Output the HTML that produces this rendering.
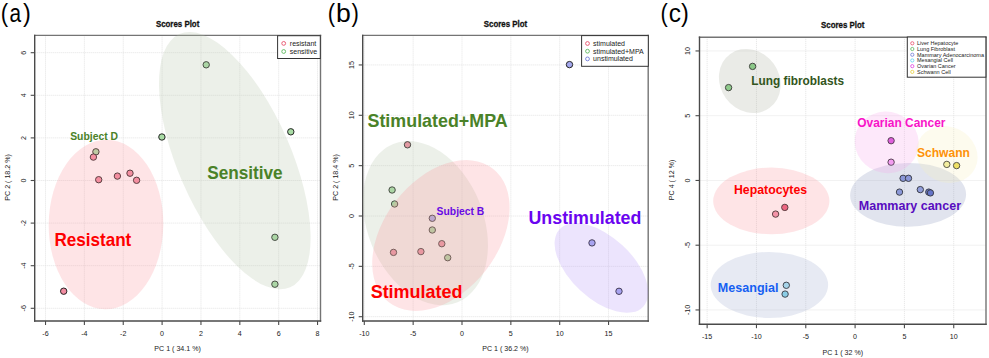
<!DOCTYPE html>
<html><head><meta charset="utf-8"><style>
html,body{margin:0;padding:0;background:#fff;overflow:hidden;}
svg{display:block;font-family:"Liberation Sans", sans-serif;}
</style></head><body>
<svg width="989" height="358" viewBox="0 0 989 358">
<rect x="0" y="0" width="989" height="358" fill="#fff"/>
<g stroke="#e3e3e3" stroke-width="1.0" stroke-dasharray="1 1"><line x1="45.52" y1="35.4" x2="45.52" y2="321.0"/><line x1="84.38" y1="35.4" x2="84.38" y2="321.0"/><line x1="123.24" y1="35.4" x2="123.24" y2="321.0"/><line x1="162.10" y1="35.4" x2="162.10" y2="321.0"/><line x1="200.96" y1="35.4" x2="200.96" y2="321.0"/><line x1="239.82" y1="35.4" x2="239.82" y2="321.0"/><line x1="278.68" y1="35.4" x2="278.68" y2="321.0"/><line x1="317.54" y1="35.4" x2="317.54" y2="321.0"/><line x1="34.7" y1="308.30" x2="320.5" y2="308.30"/><line x1="34.7" y1="265.70" x2="320.5" y2="265.70"/><line x1="34.7" y1="223.10" x2="320.5" y2="223.10"/><line x1="34.7" y1="180.50" x2="320.5" y2="180.50"/><line x1="34.7" y1="137.90" x2="320.5" y2="137.90"/><line x1="34.7" y1="95.30" x2="320.5" y2="95.30"/><line x1="34.7" y1="52.70" x2="320.5" y2="52.70"/></g>
<circle cx="95.9" cy="151.8" r="3.2" fill="#a9dca5" stroke="#1c1c1c" stroke-width="0.95"/>
<circle cx="161.9" cy="137" r="3.2" fill="#a9dca5" stroke="#1c1c1c" stroke-width="0.95"/>
<circle cx="206.2" cy="64.8" r="3.2" fill="#a9dca5" stroke="#1c1c1c" stroke-width="0.95"/>
<circle cx="290.8" cy="131.8" r="3.2" fill="#a9dca5" stroke="#1c1c1c" stroke-width="0.95"/>
<circle cx="274.9" cy="237.3" r="3.2" fill="#a9dca5" stroke="#1c1c1c" stroke-width="0.95"/>
<circle cx="274.9" cy="284.2" r="3.2" fill="#a9dca5" stroke="#1c1c1c" stroke-width="0.95"/>
<circle cx="93.4" cy="157.1" r="3.2" fill="#f28da2" stroke="#1c1c1c" stroke-width="0.95"/>
<circle cx="98.7" cy="179.7" r="3.2" fill="#f28da2" stroke="#1c1c1c" stroke-width="0.95"/>
<circle cx="117.4" cy="176.1" r="3.2" fill="#f28da2" stroke="#1c1c1c" stroke-width="0.95"/>
<circle cx="130" cy="173.2" r="3.2" fill="#f28da2" stroke="#1c1c1c" stroke-width="0.95"/>
<circle cx="136.6" cy="180.3" r="3.2" fill="#f28da2" stroke="#1c1c1c" stroke-width="0.95"/>
<circle cx="63.7" cy="291.2" r="3.2" fill="#f28da2" stroke="#1c1c1c" stroke-width="0.95"/>
<line x1="34.0" y1="35.4" x2="321.2" y2="35.4" stroke="#747474" stroke-width="1.4"/>
<line x1="320.5" y1="34.699999999999996" x2="320.5" y2="321.7" stroke="#747474" stroke-width="1.4"/>
<line x1="34.7" y1="34.699999999999996" x2="34.7" y2="321.7" stroke="#4a4a4a" stroke-width="1.4"/>
<line x1="34.0" y1="321.0" x2="321.2" y2="321.0" stroke="#4a4a4a" stroke-width="1.4"/>
<g stroke="#4a4a4a" stroke-width="1.1"><line x1="45.52" y1="321.0" x2="45.52" y2="325.0"/><line x1="84.38" y1="321.0" x2="84.38" y2="325.0"/><line x1="123.24" y1="321.0" x2="123.24" y2="325.0"/><line x1="162.10" y1="321.0" x2="162.10" y2="325.0"/><line x1="200.96" y1="321.0" x2="200.96" y2="325.0"/><line x1="239.82" y1="321.0" x2="239.82" y2="325.0"/><line x1="278.68" y1="321.0" x2="278.68" y2="325.0"/><line x1="317.54" y1="321.0" x2="317.54" y2="325.0"/><line x1="30.700000000000003" y1="308.30" x2="34.7" y2="308.30"/><line x1="30.700000000000003" y1="265.70" x2="34.7" y2="265.70"/><line x1="30.700000000000003" y1="223.10" x2="34.7" y2="223.10"/><line x1="30.700000000000003" y1="180.50" x2="34.7" y2="180.50"/><line x1="30.700000000000003" y1="137.90" x2="34.7" y2="137.90"/><line x1="30.700000000000003" y1="95.30" x2="34.7" y2="95.30"/><line x1="30.700000000000003" y1="52.70" x2="34.7" y2="52.70"/></g>
<text transform="translate(45.52 335.7) scale(1 1.1)" font-size="7.1" fill="#222" text-anchor="middle">-6</text>
<text transform="translate(84.38 335.7) scale(1 1.1)" font-size="7.1" fill="#222" text-anchor="middle">-4</text>
<text transform="translate(123.24 335.7) scale(1 1.1)" font-size="7.1" fill="#222" text-anchor="middle">-2</text>
<text transform="translate(162.10 335.7) scale(1 1.1)" font-size="7.1" fill="#222" text-anchor="middle">0</text>
<text transform="translate(200.96 335.7) scale(1 1.1)" font-size="7.1" fill="#222" text-anchor="middle">2</text>
<text transform="translate(239.82 335.7) scale(1 1.1)" font-size="7.1" fill="#222" text-anchor="middle">4</text>
<text transform="translate(278.68 335.7) scale(1 1.1)" font-size="7.1" fill="#222" text-anchor="middle">6</text>
<text transform="translate(317.54 335.7) scale(1 1.1)" font-size="7.1" fill="#222" text-anchor="middle">8</text>
<text transform="translate(26.10 308.30) rotate(-90) scale(1 1.1)" font-size="7.1" fill="#222" text-anchor="middle">-6</text>
<text transform="translate(26.10 265.70) rotate(-90) scale(1 1.1)" font-size="7.1" fill="#222" text-anchor="middle">-4</text>
<text transform="translate(26.10 223.10) rotate(-90) scale(1 1.1)" font-size="7.1" fill="#222" text-anchor="middle">-2</text>
<text transform="translate(26.10 180.50) rotate(-90) scale(1 1.1)" font-size="7.1" fill="#222" text-anchor="middle">0</text>
<text transform="translate(26.10 137.90) rotate(-90) scale(1 1.1)" font-size="7.1" fill="#222" text-anchor="middle">2</text>
<text transform="translate(26.10 95.30) rotate(-90) scale(1 1.1)" font-size="7.1" fill="#222" text-anchor="middle">4</text>
<text transform="translate(26.10 52.70) rotate(-90) scale(1 1.1)" font-size="7.1" fill="#222" text-anchor="middle">6</text>
<text transform="translate(177.60 26.7) scale(1 1.16)" font-size="7.9" font-weight="bold" fill="#111" stroke="#111" stroke-width="0.25" text-anchor="middle">Scores Plot</text>
<text transform="translate(177.60 351.3) scale(1 1.1)" font-size="7.1" fill="#222" text-anchor="middle">PC 1 ( 34.1 %)</text>
<text transform="translate(10.10 177.40) rotate(-90) scale(1 1.1)" font-size="7.1" fill="#222" text-anchor="middle">PC 2 ( 18.2 %)</text>
<rect x="277.6" y="35.7" width="42.70" height="22.80" fill="#fff" stroke="#333" stroke-width="1"/>
<circle cx="283.7" cy="43.4" r="1.9" fill="none" stroke="#e8506a" stroke-width="0.9"/>
<text x="289.8" y="45.90" font-size="7.0" fill="#222">resistant</text>
<circle cx="283.7" cy="51.5" r="1.9" fill="none" stroke="#5cb85c" stroke-width="0.9"/>
<text x="289.8" y="54.00" font-size="7.0" fill="#222">sensitive</text>
<g stroke="#e3e3e3" stroke-width="1.0" stroke-dasharray="1 1"><line x1="364.30" y1="35.4" x2="364.30" y2="321.0"/><line x1="413.15" y1="35.4" x2="413.15" y2="321.0"/><line x1="462.00" y1="35.4" x2="462.00" y2="321.0"/><line x1="510.85" y1="35.4" x2="510.85" y2="321.0"/><line x1="559.70" y1="35.4" x2="559.70" y2="321.0"/><line x1="608.55" y1="35.4" x2="608.55" y2="321.0"/><line x1="362.7" y1="316.70" x2="648.2" y2="316.70"/><line x1="362.7" y1="266.35" x2="648.2" y2="266.35"/><line x1="362.7" y1="216.00" x2="648.2" y2="216.00"/><line x1="362.7" y1="165.65" x2="648.2" y2="165.65"/><line x1="362.7" y1="115.30" x2="648.2" y2="115.30"/><line x1="362.7" y1="64.95" x2="648.2" y2="64.95"/></g>
<circle cx="392.1" cy="190" r="3.2" fill="#a9dca5" stroke="#1c1c1c" stroke-width="0.95"/>
<circle cx="394.6" cy="204" r="3.2" fill="#a9dca5" stroke="#1c1c1c" stroke-width="0.95"/>
<circle cx="432.3" cy="230" r="3.2" fill="#a9dca5" stroke="#1c1c1c" stroke-width="0.95"/>
<circle cx="447.7" cy="257.7" r="3.2" fill="#a9dca5" stroke="#1c1c1c" stroke-width="0.95"/>
<circle cx="407.5" cy="144.8" r="3.2" fill="#f28da2" stroke="#1c1c1c" stroke-width="0.95"/>
<circle cx="441.8" cy="243.7" r="3.2" fill="#f28da2" stroke="#1c1c1c" stroke-width="0.95"/>
<circle cx="393.5" cy="252.4" r="3.2" fill="#f28da2" stroke="#1c1c1c" stroke-width="0.95"/>
<circle cx="420.9" cy="251.6" r="3.2" fill="#f28da2" stroke="#1c1c1c" stroke-width="0.95"/>
<circle cx="432.3" cy="218.3" r="3.2" fill="#a4a8ee" stroke="#1c1c1c" stroke-width="0.95"/>
<circle cx="569.5" cy="64.6" r="3.2" fill="#a4a8ee" stroke="#1c1c1c" stroke-width="0.95"/>
<circle cx="592" cy="242.9" r="3.2" fill="#a4a8ee" stroke="#1c1c1c" stroke-width="0.95"/>
<circle cx="619" cy="291.3" r="3.2" fill="#a4a8ee" stroke="#1c1c1c" stroke-width="0.95"/>
<line x1="362.0" y1="35.4" x2="648.9000000000001" y2="35.4" stroke="#747474" stroke-width="1.4"/>
<line x1="648.2" y1="34.699999999999996" x2="648.2" y2="321.7" stroke="#747474" stroke-width="1.4"/>
<line x1="362.7" y1="34.699999999999996" x2="362.7" y2="321.7" stroke="#4a4a4a" stroke-width="1.4"/>
<line x1="362.0" y1="321.0" x2="648.9000000000001" y2="321.0" stroke="#4a4a4a" stroke-width="1.4"/>
<g stroke="#4a4a4a" stroke-width="1.1"><line x1="364.30" y1="321.0" x2="364.30" y2="325.0"/><line x1="413.15" y1="321.0" x2="413.15" y2="325.0"/><line x1="462.00" y1="321.0" x2="462.00" y2="325.0"/><line x1="510.85" y1="321.0" x2="510.85" y2="325.0"/><line x1="559.70" y1="321.0" x2="559.70" y2="325.0"/><line x1="608.55" y1="321.0" x2="608.55" y2="325.0"/><line x1="358.7" y1="316.70" x2="362.7" y2="316.70"/><line x1="358.7" y1="266.35" x2="362.7" y2="266.35"/><line x1="358.7" y1="216.00" x2="362.7" y2="216.00"/><line x1="358.7" y1="165.65" x2="362.7" y2="165.65"/><line x1="358.7" y1="115.30" x2="362.7" y2="115.30"/><line x1="358.7" y1="64.95" x2="362.7" y2="64.95"/></g>
<text transform="translate(364.30 335.7) scale(1 1.1)" font-size="7.1" fill="#222" text-anchor="middle">-10</text>
<text transform="translate(413.15 335.7) scale(1 1.1)" font-size="7.1" fill="#222" text-anchor="middle">-5</text>
<text transform="translate(462.00 335.7) scale(1 1.1)" font-size="7.1" fill="#222" text-anchor="middle">0</text>
<text transform="translate(510.85 335.7) scale(1 1.1)" font-size="7.1" fill="#222" text-anchor="middle">5</text>
<text transform="translate(559.70 335.7) scale(1 1.1)" font-size="7.1" fill="#222" text-anchor="middle">10</text>
<text transform="translate(608.55 335.7) scale(1 1.1)" font-size="7.1" fill="#222" text-anchor="middle">15</text>
<text transform="translate(353.60 316.70) rotate(-90) scale(1 1.1)" font-size="7.1" fill="#222" text-anchor="middle">-10</text>
<text transform="translate(353.60 266.35) rotate(-90) scale(1 1.1)" font-size="7.1" fill="#222" text-anchor="middle">-5</text>
<text transform="translate(353.60 216.00) rotate(-90) scale(1 1.1)" font-size="7.1" fill="#222" text-anchor="middle">0</text>
<text transform="translate(353.60 165.65) rotate(-90) scale(1 1.1)" font-size="7.1" fill="#222" text-anchor="middle">5</text>
<text transform="translate(353.60 115.30) rotate(-90) scale(1 1.1)" font-size="7.1" fill="#222" text-anchor="middle">10</text>
<text transform="translate(353.60 64.95) rotate(-90) scale(1 1.1)" font-size="7.1" fill="#222" text-anchor="middle">15</text>
<text transform="translate(505.45 26.7) scale(1 1.16)" font-size="7.9" font-weight="bold" fill="#111" stroke="#111" stroke-width="0.25" text-anchor="middle">Scores Plot</text>
<text transform="translate(505.45 351.3) scale(1 1.1)" font-size="7.1" fill="#222" text-anchor="middle">PC 1 ( 36.2 %)</text>
<text transform="translate(337.90 177.40) rotate(-90) scale(1 1.1)" font-size="7.1" fill="#222" text-anchor="middle">PC 2 ( 18.4 %)</text>
<rect x="581.6" y="35.6" width="66.70" height="30.70" fill="#fff" stroke="#333" stroke-width="1"/>
<circle cx="587.5" cy="43.5" r="1.9" fill="none" stroke="#e8506a" stroke-width="0.9"/>
<text x="593.1" y="46.00" font-size="7.0" fill="#222">stimulated</text>
<circle cx="587.5" cy="51.2" r="1.9" fill="none" stroke="#5cb85c" stroke-width="0.9"/>
<text x="593.1" y="53.70" font-size="7.0" fill="#222">stimulated+MPA</text>
<circle cx="587.5" cy="58.9" r="1.9" fill="none" stroke="#6f7ad8" stroke-width="0.9"/>
<text x="593.1" y="61.40" font-size="7.0" fill="#222">unstimulated</text>
<g stroke="#e3e3e3" stroke-width="1.0" stroke-dasharray="1 1"><line x1="707.14" y1="37.2" x2="707.14" y2="324.2"/><line x1="756.46" y1="37.2" x2="756.46" y2="324.2"/><line x1="805.78" y1="37.2" x2="805.78" y2="324.2"/><line x1="855.10" y1="37.2" x2="855.10" y2="324.2"/><line x1="904.42" y1="37.2" x2="904.42" y2="324.2"/><line x1="953.74" y1="37.2" x2="953.74" y2="324.2"/><line x1="699.5" y1="309.95" x2="986.0" y2="309.95"/><line x1="699.5" y1="245.20" x2="986.0" y2="245.20"/><line x1="699.5" y1="180.45" x2="986.0" y2="180.45"/><line x1="699.5" y1="115.70" x2="986.0" y2="115.70"/><line x1="699.5" y1="50.95" x2="986.0" y2="50.95"/></g>
<circle cx="752.6" cy="66.4" r="3.2" fill="#80d080" stroke="#1c1c1c" stroke-width="0.95"/>
<circle cx="728.6" cy="87.6" r="3.2" fill="#86d486" stroke="#1c1c1c" stroke-width="0.95"/>
<circle cx="784.8" cy="207.4" r="3.2" fill="#e8587a" stroke="#1c1c1c" stroke-width="0.95"/>
<circle cx="775.6" cy="214.1" r="3.2" fill="#f294ac" stroke="#1c1c1c" stroke-width="0.95"/>
<circle cx="891.1" cy="140.7" r="3.2" fill="#d848d8" stroke="#1c1c1c" stroke-width="0.95"/>
<circle cx="891.1" cy="162.2" r="3.2" fill="#f29af2" stroke="#1c1c1c" stroke-width="0.95"/>
<circle cx="946.8" cy="164.4" r="3.2" fill="#f2ee96" stroke="#1c1c1c" stroke-width="0.95"/>
<circle cx="956.6" cy="165.6" r="3.2" fill="#ecdc48" stroke="#1c1c1c" stroke-width="0.95"/>
<circle cx="903.1" cy="178.3" r="3.2" fill="#8c9ae2" stroke="#1c1c1c" stroke-width="0.95"/>
<circle cx="908.5" cy="178.3" r="3.2" fill="#8c9ae2" stroke="#1c1c1c" stroke-width="0.95"/>
<circle cx="899.5" cy="192.1" r="3.2" fill="#8c9ae2" stroke="#1c1c1c" stroke-width="0.95"/>
<circle cx="920.3" cy="189.6" r="3.2" fill="#94a0e4" stroke="#1c1c1c" stroke-width="0.95"/>
<circle cx="928.8" cy="192.1" r="3.2" fill="#6a7ad4" stroke="#1c1c1c" stroke-width="0.95"/>
<circle cx="930.4" cy="192.9" r="3.2" fill="#5a6acc" stroke="#1c1c1c" stroke-width="0.95"/>
<circle cx="786.3" cy="285.3" r="3.2" fill="#a8e2f2" stroke="#1c1c1c" stroke-width="0.95"/>
<circle cx="785.1" cy="294.1" r="3.2" fill="#84d8ee" stroke="#1c1c1c" stroke-width="0.95"/>
<line x1="698.8" y1="37.2" x2="986.7" y2="37.2" stroke="#747474" stroke-width="1.4"/>
<line x1="986.0" y1="36.5" x2="986.0" y2="324.9" stroke="#747474" stroke-width="1.4"/>
<line x1="699.5" y1="36.5" x2="699.5" y2="324.9" stroke="#4a4a4a" stroke-width="1.4"/>
<line x1="698.8" y1="324.2" x2="986.7" y2="324.2" stroke="#4a4a4a" stroke-width="1.4"/>
<g stroke="#4a4a4a" stroke-width="1.1"><line x1="707.14" y1="324.2" x2="707.14" y2="328.2"/><line x1="756.46" y1="324.2" x2="756.46" y2="328.2"/><line x1="805.78" y1="324.2" x2="805.78" y2="328.2"/><line x1="855.10" y1="324.2" x2="855.10" y2="328.2"/><line x1="904.42" y1="324.2" x2="904.42" y2="328.2"/><line x1="953.74" y1="324.2" x2="953.74" y2="328.2"/><line x1="695.5" y1="309.95" x2="699.5" y2="309.95"/><line x1="695.5" y1="245.20" x2="699.5" y2="245.20"/><line x1="695.5" y1="180.45" x2="699.5" y2="180.45"/><line x1="695.5" y1="115.70" x2="699.5" y2="115.70"/><line x1="695.5" y1="50.95" x2="699.5" y2="50.95"/></g>
<text transform="translate(707.14 338.9) scale(1 1.1)" font-size="7.1" fill="#222" text-anchor="middle">-15</text>
<text transform="translate(756.46 338.9) scale(1 1.1)" font-size="7.1" fill="#222" text-anchor="middle">-10</text>
<text transform="translate(805.78 338.9) scale(1 1.1)" font-size="7.1" fill="#222" text-anchor="middle">-5</text>
<text transform="translate(855.10 338.9) scale(1 1.1)" font-size="7.1" fill="#222" text-anchor="middle">0</text>
<text transform="translate(904.42 338.9) scale(1 1.1)" font-size="7.1" fill="#222" text-anchor="middle">5</text>
<text transform="translate(953.74 338.9) scale(1 1.1)" font-size="7.1" fill="#222" text-anchor="middle">10</text>
<text transform="translate(690.00 309.95) rotate(-90) scale(1 1.1)" font-size="7.1" fill="#222" text-anchor="middle">-10</text>
<text transform="translate(690.00 245.20) rotate(-90) scale(1 1.1)" font-size="7.1" fill="#222" text-anchor="middle">-5</text>
<text transform="translate(690.00 180.45) rotate(-90) scale(1 1.1)" font-size="7.1" fill="#222" text-anchor="middle">0</text>
<text transform="translate(690.00 115.70) rotate(-90) scale(1 1.1)" font-size="7.1" fill="#222" text-anchor="middle">5</text>
<text transform="translate(690.00 50.95) rotate(-90) scale(1 1.1)" font-size="7.1" fill="#222" text-anchor="middle">10</text>
<text transform="translate(842.75 28.4) scale(1 1.16)" font-size="7.9" font-weight="bold" fill="#111" stroke="#111" stroke-width="0.25" text-anchor="middle">Scores Plot</text>
<text transform="translate(842.75 354.8) scale(1 1.1)" font-size="7.1" fill="#222" text-anchor="middle">PC 1 ( 32 %)</text>
<text transform="translate(674.30 179.90) rotate(-90) scale(1 1.1)" font-size="7.1" fill="#222" text-anchor="middle">PC 4 ( 12 %)</text>
<rect x="907.3" y="37" width="78.60" height="40.20" fill="#fff" stroke="#333" stroke-width="1"/>
<circle cx="912.3" cy="43.3" r="1.6" fill="none" stroke="#e8506a" stroke-width="0.8"/>
<text x="917.0" y="45.30" font-size="5.5" fill="#222">Liver Hepatocyte</text>
<circle cx="912.3" cy="49.019999999999996" r="1.6" fill="none" stroke="#5cb85c" stroke-width="0.8"/>
<text x="917.0" y="51.02" font-size="5.5" fill="#222">Lung Fibroblast</text>
<circle cx="912.3" cy="54.739999999999995" r="1.6" fill="none" stroke="#6f7ad8" stroke-width="0.8"/>
<text x="917.0" y="56.74" font-size="5.5" fill="#222">Mammary Adenocarcinoma</text>
<circle cx="912.3" cy="60.459999999999994" r="1.6" fill="none" stroke="#5fd0f0" stroke-width="0.8"/>
<text x="917.0" y="62.46" font-size="5.5" fill="#222">Mesangial Cell</text>
<circle cx="912.3" cy="66.17999999999999" r="1.6" fill="none" stroke="#e040e0" stroke-width="0.8"/>
<text x="917.0" y="68.18" font-size="5.5" fill="#222">Ovarian Cancer</text>
<circle cx="912.3" cy="71.89999999999999" r="1.6" fill="none" stroke="#e8d040" stroke-width="0.8"/>
<text x="917.0" y="73.90" font-size="5.5" fill="#222">Schwann Cell</text>
<ellipse cx="234.8" cy="160.7" rx="138.2" ry="56.5" transform="rotate(66.4 234.8 160.7)" fill="rgb(179,195,167)" fill-opacity="0.25"/>
<ellipse cx="106.0" cy="224.5" rx="57.3" ry="84.7" transform="rotate(0.6 106.0 224.5)" fill="rgb(251,147,155)" fill-opacity="0.25"/>
<ellipse cx="425.4" cy="223.1" rx="57.9" ry="85.4" transform="rotate(-22.1 425.4 223.1)" fill="rgb(179,195,167)" fill-opacity="0.25"/>
<ellipse cx="440.9" cy="235.5" rx="84.7" ry="56.8" transform="rotate(-52.1 440.9 235.5)" fill="rgb(251,147,155)" fill-opacity="0.25"/>
<ellipse cx="601.4" cy="267.9" rx="57.0" ry="30.9" transform="rotate(42.8 601.4 267.9)" fill="rgb(179,147,247)" fill-opacity="0.25"/>
<ellipse cx="749.8" cy="81.0" rx="33.4" ry="29.5" transform="rotate(54.2 749.8 81.0)" fill="rgb(171,175,159)" fill-opacity="0.25"/>
<ellipse cx="771.3" cy="200.9" rx="58.1" ry="33.3" transform="rotate(0 771.3 200.9)" fill="rgb(251,147,155)" fill-opacity="0.25"/>
<ellipse cx="908.1" cy="194.8" rx="58.0" ry="31.9" transform="rotate(-0.6 908.1 194.8)" fill="rgb(135,147,187)" fill-opacity="0.25"/>
<ellipse cx="769.4" cy="284.9" rx="58.7" ry="33.0" transform="rotate(0 769.4 284.9)" fill="rgb(159,171,207)" fill-opacity="0.25"/>
<ellipse cx="886.7" cy="142.4" rx="32.2" ry="30.6" transform="rotate(20.5 886.7 142.4)" fill="rgb(247,163,235)" fill-opacity="0.25"/>
<ellipse cx="946.9" cy="154.5" rx="31.4" ry="27.7" transform="rotate(26 946.9 154.5)" fill="rgb(247,239,187)" fill-opacity="0.25"/>
<text transform="translate(0.84 21.60) scale(0.878 1)" font-size="25.40" fill="#000">(</text>
<text transform="translate(9.62 21.60) scale(0.819 1)" font-size="25.40" fill="#000">a</text>
<text transform="translate(22.96 21.60) scale(0.925 1)" font-size="25.40" fill="#000">)</text>
<text transform="translate(327.78 21.60) scale(0.869 1)" font-size="25.40" fill="#000">(</text>
<text transform="translate(336.10 21.60) scale(1.048 1)" font-size="25.40" fill="#000">b</text>
<text transform="translate(351.58 21.60) scale(0.871 1)" font-size="25.40" fill="#000">)</text>
<text transform="translate(660.41 21.60) scale(0.861 1)" font-size="25.40" fill="#000">(</text>
<text transform="translate(668.75 21.60) scale(0.960 1)" font-size="25.40" fill="#000">c</text>
<text transform="translate(680.96 21.60) scale(0.925 1)" font-size="25.40" fill="#000">)</text>
<text x="70.18" y="139.70" font-size="10.45" font-weight="bold" fill="#4a8228" textLength="47.88" lengthAdjust="spacingAndGlyphs">Subject D</text>
<text x="54.44" y="245.70" font-size="18.20" font-weight="bold" fill="#fe0000" textLength="76.86" lengthAdjust="spacingAndGlyphs">Resistant</text>
<text x="207.26" y="179.00" font-size="18.10" font-weight="bold" fill="#4a8228" textLength="75.42" lengthAdjust="spacingAndGlyphs">Sensitive</text>
<text x="367.50" y="126.50" font-size="17.80" font-weight="bold" fill="#4a8228" textLength="140.20" lengthAdjust="spacingAndGlyphs">Stimulated+MPA</text>
<text x="436.60" y="214.50" font-size="10.30" font-weight="bold" fill="#680ae4" textLength="47.75" lengthAdjust="spacingAndGlyphs">Subject B</text>
<text x="370.67" y="298.30" font-size="17.70" font-weight="bold" fill="#fe0000" textLength="91.86" lengthAdjust="spacingAndGlyphs">Stimulated</text>
<text x="528.49" y="224.20" font-size="18.80" font-weight="bold" fill="#6a04f0" textLength="112.94" lengthAdjust="spacingAndGlyphs">Unstimulated</text>
<text x="751.33" y="84.50" font-size="12.60" font-weight="bold" fill="#325520" textLength="92.75" lengthAdjust="spacingAndGlyphs">Lung fibroblasts</text>
<text x="857.34" y="126.80" font-size="12.40" font-weight="bold" fill="#f814c8" textLength="88.18" lengthAdjust="spacingAndGlyphs">Ovarian Cancer</text>
<text x="916.96" y="156.60" font-size="12.30" font-weight="bold" fill="#fd9208" textLength="53.03" lengthAdjust="spacingAndGlyphs">Schwann</text>
<text x="734.00" y="193.60" font-size="12.35" font-weight="bold" fill="#fe0000" textLength="73.08" lengthAdjust="spacingAndGlyphs">Hepatocytes</text>
<text x="858.84" y="209.70" font-size="12.50" font-weight="bold" fill="#580cc0" textLength="102.22" lengthAdjust="spacingAndGlyphs">Mammary cancer</text>
<text x="717.89" y="292.10" font-size="12.35" font-weight="bold" fill="#1560f2" textLength="60.62" lengthAdjust="spacingAndGlyphs">Mesangial</text>
</svg></body></html>
